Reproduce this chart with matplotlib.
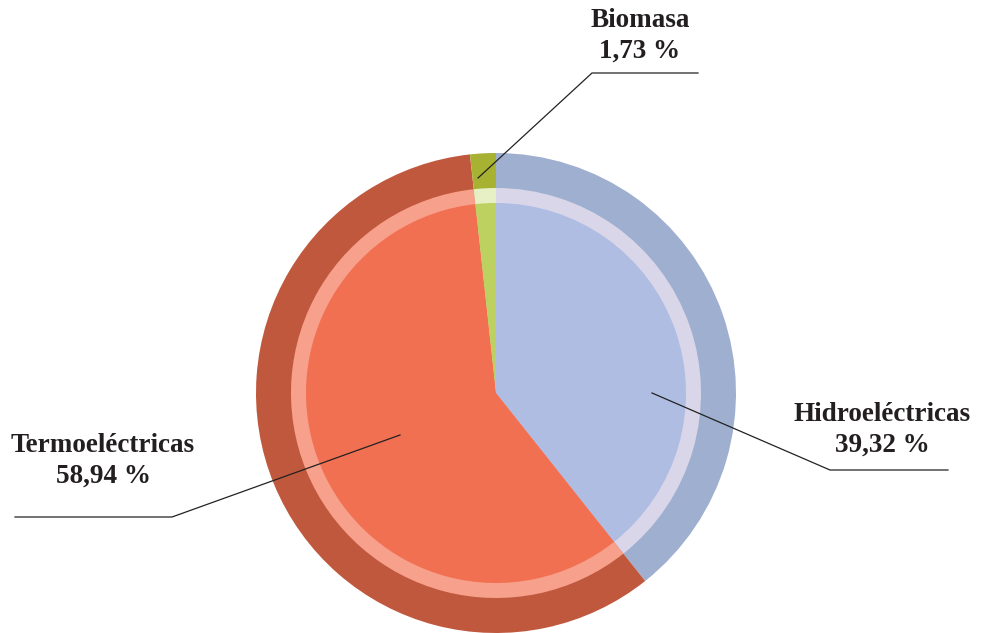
import matplotlib.pyplot as plt

plt.rcParams['font.family'] = ['Liberation Serif', 'DejaVu Serif']

labels = ['Hidroeléctricas', 'Termoeléctricas', 'Biomasa']
shares = [39.32, 58.94, 1.73]
pct_text = ['39,32 %', '58,94 %', '1,73 %']

outer_colors = ['#9FAFCF', '#C0583E', '#A8B232']
ring_colors = ['#DAD6EA', '#F7A08C', '#E6F0C4']
inner_colors = ['#AFBDE2', '#F27052', '#BDD160']

fig = plt.figure(figsize=(9.88, 6.33), dpi=100)
ax = fig.add_axes([0, 0, 1, 1])

center = (496, 240)
for r, cols in [(240, outer_colors), (205, ring_colors), (190, inner_colors)]:
    ax.pie(shares, colors=cols, radius=r, center=center, startangle=90,
           counterclock=False, wedgeprops=dict(linewidth=0),
           frame=True)
ax.set_xlim(0, 988)
ax.set_ylim(0, 633)
ax.set_aspect('equal')
ax.axis('off')

# leader lines: (start on pie, elbow, end) and label centre
leaders = [
    [(652, 240), (830, 163), (948, 163)],
    [(400, 198), (172, 116), (15, 116)],
    [(478, 455), (592, 560), (698, 560)],
]
text_pos = [(882, 203), (103, 172), (640, 597)]

for name, pct, pts, tp in zip(labels, pct_text, leaders, text_pos):
    xs, ys = zip(*pts)
    ax.plot(xs, ys, color='#222222', lw=0.9)
    ax.text(tp[0], tp[1], name + '\n' + pct, ha='center', va='center',
            fontsize=19.5, fontweight='bold', color='#231F20', linespacing=1.3)

fig.savefig('out.png', dpi=100)
